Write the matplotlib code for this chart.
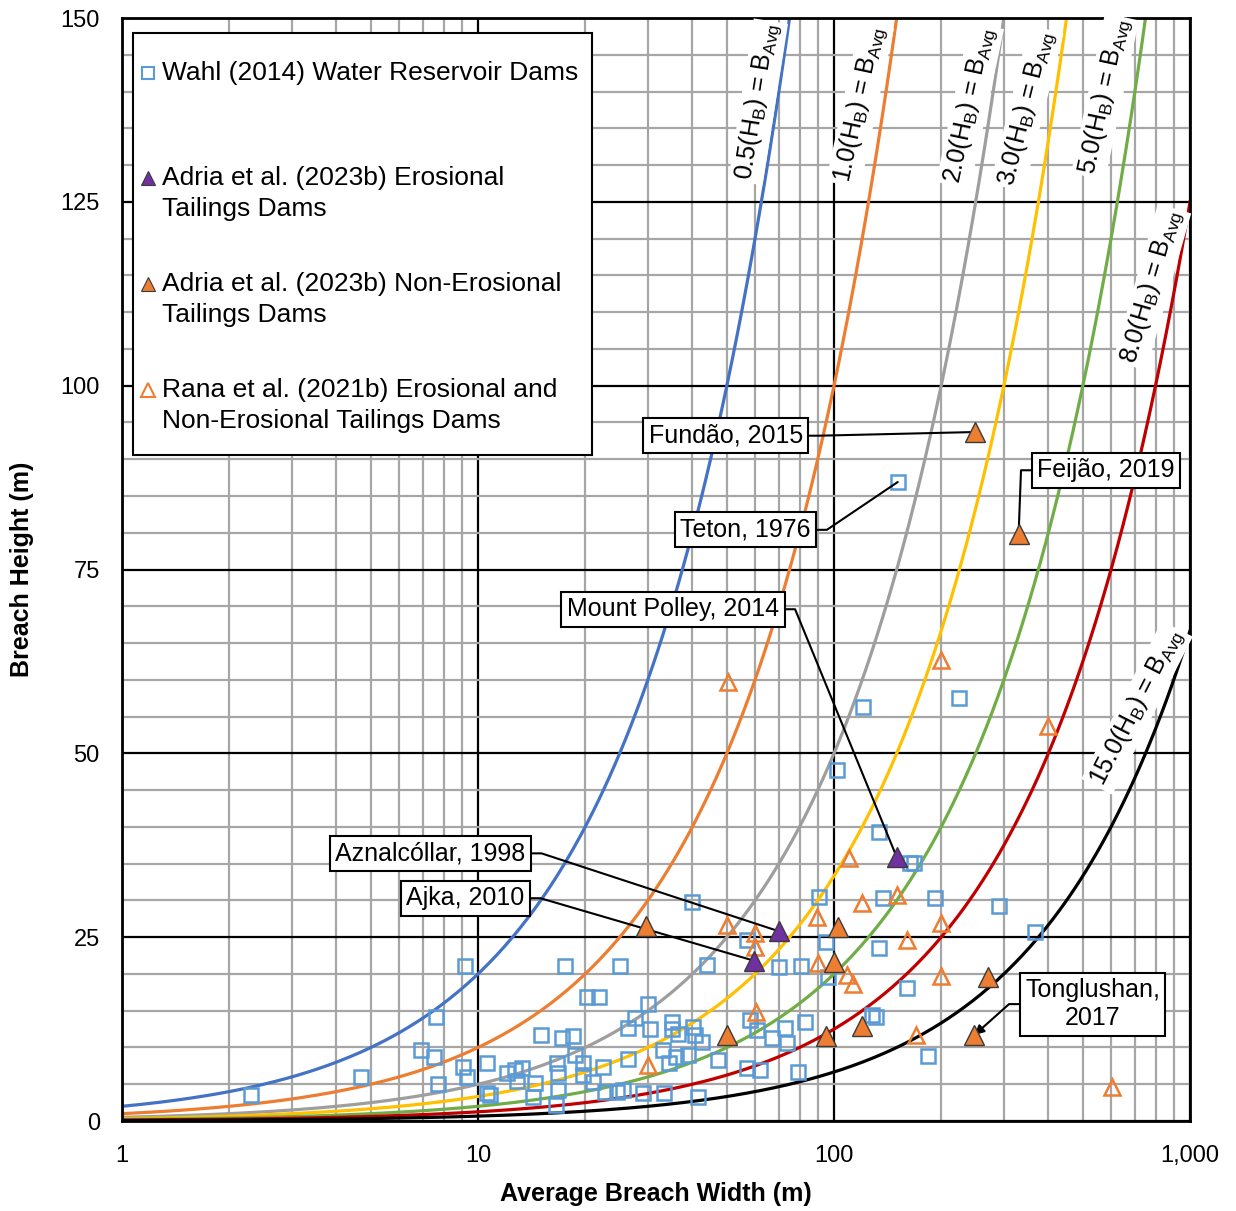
import numpy as np
import matplotlib.pyplot as plt
from matplotlib.patches import Rectangle
from matplotlib.ticker import MultipleLocator, LogLocator, FuncFormatter, NullFormatter

plt.rcParams['font.family'] = ['Liberation Sans', 'DejaVu Sans']
plt.rcParams['mathtext.fontset'] = 'custom'
plt.rcParams['mathtext.rm'] = 'Liberation Sans'
plt.rcParams['mathtext.it'] = 'Liberation Sans:italic'

# Wahl (2014) water reservoir dams: average breach width (m), breach height (m)
wahl_width = [2.3, 4.7, 6.9, 7.6, 7.5, 7.7, 9.2, 9.1, 9.3, 10.6, 10.6,
              17.6, 25.0, 20.2, 21.9, 30.0, 27.6, 26.4, 30.4, 35.0, 35.0,
              15.0, 17.2, 18.5, 12.1, 13.3, 12.7, 16.7, 18.7, 19.7, 22.4,
              26.4, 33.0, 34.5, 14.5, 16.8, 16.8, 21.0, 19.7, 25.5, 29.0,
              33.4, 10.8, 14.3, 16.6, 22.8, 24.6, 12.9,
              40.1, 40.6, 42.5, 36.5, 38.8, 36.0, 47.2, 58.0, 60.6, 67.0,
              73.0, 74.0, 83.0, 57.0, 62.0, 79.0, 41.5,
              40.0, 91.0, 57.0, 95.0, 44.0, 70.0, 81.0, 96.0,
              102, 121, 225, 134, 164, 168, 137, 192, 134, 160, 128, 131,
              184, 290, 366, 151]
wahl_height = [3.5, 6.0, 9.6, 14.1, 8.7, 5.0, 21.1, 7.3, 6.0, 7.9, 3.8,
               21.1, 21.1, 16.9, 16.9, 15.9, 14.0, 12.6, 12.5, 13.5, 12.5,
               11.7, 11.3, 11.6, 6.5, 7.2, 6.9, 7.9, 9.0, 7.9, 7.3,
               8.4, 9.7, 7.9, 5.2, 6.5, 4.2, 5.3, 6.3, 4.2, 3.8,
               3.8, 3.5, 3.3, 2.2, 3.9, 3.9, 5.4,
               12.8, 11.7, 10.7, 11.9, 9.0, 8.7, 8.3, 13.7, 12.4, 11.3,
               12.6, 10.6, 13.5, 7.2, 6.9, 6.7, 3.3,
               29.8, 30.5, 24.6, 24.3, 21.2, 21.0, 21.1, 19.6,
               47.7, 56.3, 57.5, 39.3, 35.1, 35.1, 30.3, 30.3, 23.5, 18.1, 14.4, 14.1,
               8.8, 29.2, 25.7, 86.9]

# Adria et al. (2023b) erosional tailings dams
ero_width = [70.1, 59.6, 150]
ero_height = [25.8, 21.8, 35.9]

# Adria et al. (2023b) non-erosional tailings dams
nonero_width = [29.6, 50, 95, 102.6, 100, 120, 249, 330, 271, 248]
nonero_height = [26.5, 11.7, 11.6, 26.4, 21.6, 12.9, 93.7, 79.8, 19.6, 11.7]

# Rana et al. (2021b) erosional and non-erosional tailings dams
rana_width = [50.4, 50, 60, 60, 60.5, 30, 89.6, 90, 109, 113, 110, 120,
              150, 160, 200, 200, 170, 200, 400, 604]
rana_height = [59.7, 26.7, 25.6, 23.7, 14.8, 7.6, 27.8, 21.5, 19.8, 18.7, 35.8, 29.6,
               30.7, 24.6, 26.9, 19.7, 11.7, 62.7, 53.7, 4.6]

# ratio lines k*H = B
ratios = [0.5, 1.0, 2.0, 3.0, 5.0, 8.0, 15.0]
ratio_colors = ['#4472C4', '#ED7D31', '#9E9E9E', '#FFC000', '#70AD47', '#C00000', '#000000']
# label anchor (width, height) and rotation for each ratio line
ratio_label_pos = [(61.2, 138.6), (118.3, 138.2), (241, 138.1), (348, 137.7),
                   (577, 139.3), (782, 113.4), (710, 56.2)]
ratio_label_rot = [81, 78, 78, 76, 78, 74, 63]

fig = plt.figure(figsize=(12.36, 12.11), dpi=100)
ax = fig.add_axes([0.0987, 0.0743, 0.8641, 0.9108])

ax.set_xscale('log')
ax.set_xlim(1, 1000)
ax.set_ylim(0, 150)
ax.yaxis.set_major_locator(MultipleLocator(25))
ax.yaxis.set_minor_locator(MultipleLocator(5))
ax.xaxis.set_major_locator(LogLocator(base=10))
ax.xaxis.set_minor_locator(LogLocator(base=10, subs=np.arange(2, 10)))
ax.xaxis.set_major_formatter(FuncFormatter(lambda v, p: f"{v:,.0f}"))
ax.xaxis.set_minor_formatter(NullFormatter())
ax.set_axisbelow(True)
ax.grid(which='minor', color='#a6a6a6', lw=1.6)
ax.grid(which='major', color='black', lw=1.6)
ax.tick_params(which='both', length=0, labelsize=17)
ax.tick_params(axis='y', pad=16)
ax.tick_params(axis='x', pad=17)
for s in ax.spines.values():
    s.set_linewidth(2)

# ratio curves
b = np.logspace(0, 3, 400)
for k, c in zip(ratios, ratio_colors):
    ax.plot(b, b / k, color=c, lw=2.3, zorder=2)

for k, (lx, ly), rot in zip(ratios, ratio_label_pos, ratio_label_rot):
    ax.text(lx, ly, f"{k:.1f}(H$_\\mathregular{{B}}$) = B$_\\mathregular{{Avg}}$",
            rotation=rot, rotation_mode='anchor', ha='center', va='center',
            fontsize=18, zorder=8, clip_on=False,
            bbox=dict(boxstyle='square,pad=0.1', fc='white', ec='none'))

# data sets
ax.plot(wahl_width, wahl_height, ls='none', marker='s', ms=10, mfc='none',
        mec='#5B9BD5', mew=1.8, zorder=3)
ax.plot(rana_width, rana_height, ls='none', marker='^', ms=12, mfc='none',
        mec='#ED7D31', mew=1.8, zorder=3)
ax.plot(nonero_width, nonero_height, ls='none', marker='^', ms=15, mfc='#ED7D31',
        mec='#3a3a3a', mew=1, zorder=5)
ax.plot(ero_width, ero_height, ls='none', marker='^', ms=15, mfc='#7030A0',
        mec='#3a3a3a', mew=1, zorder=5)

# callouts: text, point, text anchor, side of the box the leader leaves from
callouts = [
    ("Aznalcóllar, 1998", (ero_width[0], ero_height[0]), (13.6, 36.4), 'right', '-'),
    ("Ajka, 2010", (ero_width[1], ero_height[1]), (13.5, 30.3), 'right', '-'),
    ("Mount Polley, 2014", (ero_width[2], ero_height[2]), (70.1, 69.6), 'right', '-'),
    ("Teton, 1976", (wahl_width[-1], wahl_height[-1]), (86.1, 80.4), 'right', '-'),
    ("Fundão, 2015", (nonero_width[6], nonero_height[6]), (81.8, 93.2), 'right', '-'),
    ("Feijão, 2019", (nonero_width[7], nonero_height[7]), (371.7, 88.5), 'left', '-'),
    ("Tonglushan,\n2017", (nonero_width[9], nonero_height[9]), (344, 15.9), 'left', '-|>'),
]
for text, xy, xytext, side, style in callouts:
    angle = 0 if side == 'right' else 180
    rel = (1, 0.5) if side == 'right' else (0, 0.5)
    ax.annotate(text, xy=xy, xytext=xytext, ha=side, va='center', fontsize=18,
                multialignment='center', zorder=4,
                bbox=dict(boxstyle='square,pad=0.22', fc='white', ec='black', lw=1.5),
                arrowprops=dict(arrowstyle=style, color='black', lw=1.5, relpos=rel,
                                mutation_scale=14, shrinkA=0, shrinkB=0,
                                connectionstyle=f"arc,angleA={angle},angleB=0,armA=16,armB=0,rad=0"))

# legend
ax.add_patch(Rectangle((0.0103, 0.6038), 0.4298, 0.3826, transform=ax.transAxes,
                       fc='white', ec='black', lw=1.5, zorder=7))
legend_entries = [
    (["Wahl (2014) Water Reservoir Dams"], dict(marker='s', ms=8, mfc='none', mec='#5B9BD5', mew=1.5)),
    (["Adria et al. (2023b) Erosional", "Tailings Dams"],
     dict(marker='^', ms=10, mfc='#7030A0', mec='#3a3a3a', mew=0.8)),
    (["Adria et al. (2023b) Non-Erosional", "Tailings Dams"],
     dict(marker='^', ms=10, mfc='#ED7D31', mec='#3a3a3a', mew=0.8)),
    (["Rana et al. (2021b) Erosional and", "Non-Erosional Tailings Dams"],
     dict(marker='^', ms=10, mfc='none', mec='#ED7D31', mew=1.5)),
]
entry_y = [0.950, 0.855, 0.759, 0.663]
line_step = 0.0281
for (lines, mk), y0 in zip(legend_entries, entry_y):
    ax.plot([0.0243], [y0], ls='none', transform=ax.transAxes, clip_on=False, zorder=8, **mk)
    for i, line in enumerate(lines):
        ax.text(0.0375, y0 - i * line_step, line, transform=ax.transAxes,
                ha='left', va='center', fontsize=19, zorder=8)

ax.set_xlabel("Average Breach Width (m)", fontsize=18, fontweight='bold')
ax.set_ylabel("Breach Height (m)", fontsize=18, fontweight='bold')
ax.xaxis.set_label_coords(0.5, -0.055)
ax.yaxis.set_label_coords(-0.082, 0.5)

fig.savefig("out.png", dpi=100)
